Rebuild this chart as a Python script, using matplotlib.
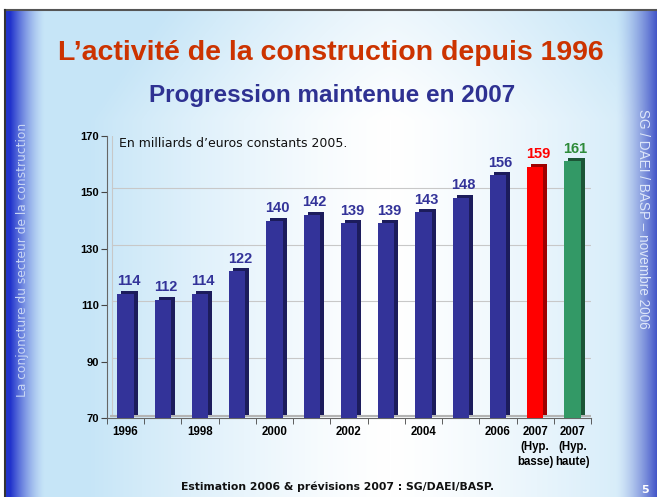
import numpy as np
import matplotlib
matplotlib.use('Agg')
import matplotlib.pyplot as plt
import matplotlib.transforms as mtransforms

# Donnees du graphique (milliards d'euros constants 2005)
annees = ['1996', '1997', '1998', '1999', '2000', '2001', '2002', '2003',
          '2004', '2005', '2006', '2007 basse', '2007 haute']
valeurs = [114, 112, 114, 122, 140, 142, 139, 139, 143, 148, 156, 159, 161]
couleurs = ['#333399'] * 11 + ['#FF0000', '#339966']
couleurs_cote = ['#1C1C5C'] * 11 + ['#9E0000', '#1C5636']
couleurs_texte = ['#333399'] * 11 + ['#FF0000', '#2E8B3A']
pos_labels = [0, 2, 4, 6, 8, 10, 11, 12]
labels_x = ['1996', '1998', '2000', '2002', '2004', '2006',
            '2007\n(Hyp.\nbasse)', '2007\n(Hyp.\nhaute)']
ticks_y = [70, 90, 110, 130, 150, 170]

W, H = 657, 497
fig = plt.figure(figsize=(W / 100, H / 100), dpi=100)

# Fond de la diapositive (degrade)
bg = fig.add_axes([0, 0, 1, 1])
bg.set_xlim(0, W)
bg.set_ylim(H, 0)
bg.axis('off')
X, Y = np.meshgrid(np.arange(W), np.arange(H))
clair = np.array([0.78, 0.90, 0.97])
blanc = np.array([1.0, 1.0, 1.0])
bleu = np.array([0.13, 0.20, 0.80])
t = np.clip(np.abs(X - 390) / 300.0, 0, 1) ** 1.3
t = np.clip(t + 0.35 * np.clip((120 - Y) / 120.0, 0, 1), 0, 1)
img = blanc * (1 - t[..., None]) + clair * t[..., None]
g = np.clip((40 - (X - 5)) / 35.0, 0, 1) ** 1.5
img = img * (1 - g[..., None]) + bleu * g[..., None]
d = np.clip((X - 615) / 42.0, 0, 1) ** 1.5
bleu2 = np.array([0.25, 0.32, 0.78])
img = img * (1 - d[..., None]) + bleu2 * d[..., None]
img[:10, :, :] = 1.0
img[:, :5, :] = 1.0
bg.imshow(img, extent=(0, W, H, 0), aspect='auto')
bg.plot([5, W], [10, 10], color='#555555', lw=1.5)
bg.plot([5, 5], [10, H], color='#333333', lw=1.5)

# Titres
fig.text(0.503, 0.893, 'L\u2019activité de la construction depuis 1996',
         ha='center', va='center', fontsize=20.5, fontweight='bold',
         color='#CC3300', family='Liberation Sans')
fig.text(0.505, 0.808, 'Progression maintenue en 2007', ha='center',
         va='center', fontsize=17.5, fontweight='bold', color='#2E3192',
         family='Liberation Sans')
fig.text(0.034, 0.477, 'La conjoncture du secteur de la construction',
         rotation=90, ha='center', va='center', fontsize=8.8,
         color='#C8D6F5', family='DejaVu Sans')
fig.text(0.979, 0.559, 'SG / DAEI / BASP \u2013 novembre 2006',
         rotation=-90, ha='center', va='center', fontsize=9.8,
         color='#DDE6FA', family='Liberation Sans')
fig.text(0.982, 0.015, '5', ha='center', va='center', fontsize=8,
         color='white', fontweight='bold')
fig.text(0.514, 0.02, 'Estimation 2006 & prévisions 2007 : SG/DAEI/BASP.',
         ha='center', va='center', fontsize=7.8, fontweight='bold',
         color='#111111', family='DejaVu Sans')

# Graphique
ax = fig.add_axes([107 / W, 79 / H, 484 / W, 282 / H])
ax.patch.set_alpha(0)
x = np.arange(len(valeurs))
ax.set_xlim(-0.5, len(valeurs) - 0.5)
ax.set_ylim(70, 170)

# Mur du fond decale (effet 3D)
decal = mtransforms.offset_copy(ax.transData, fig=fig, x=5, y=4, units='dots')
for v in ticks_y[1:]:
    ax.plot([-0.5, len(valeurs) - 0.5], [v, v], color='#C8C8C8', lw=0.8,
            transform=decal, zorder=1)
ax.plot([-0.5, -0.5], [70, 170], color='#C8C8C8', lw=0.8, transform=decal, zorder=1)
ax.plot([len(valeurs) - 0.5] * 2, [70, 170], color='#C8C8C8', lw=0.8,
        transform=decal, zorder=1)
ax.plot([-0.5, len(valeurs) - 0.5], [70, 70], color='#B4B4B4', lw=1.5,
        transform=mtransforms.offset_copy(ax.transData, fig=fig, x=3, y=2, units='dots'),
        zorder=1, solid_capstyle='butt')

larg = 0.44
cote = mtransforms.offset_copy(ax.transData, fig=fig, x=4, y=3, units='dots')
ax.bar(x, [v - 70 for v in valeurs], width=larg, bottom=70,
       color=couleurs_cote, transform=cote, zorder=2)
ax.bar(x, [v - 70 for v in valeurs], width=larg, bottom=70,
       color=couleurs, zorder=3)

for xi, v, c in zip(x, valeurs, couleurs_texte):
    ax.annotate(str(v), (xi, v), xytext=(2, 4), textcoords='offset points',
                ha='center', va='bottom', fontsize=10.5, fontweight='bold',
                color=c, family='Liberation Sans', zorder=4)

ax.text(0.025, 0.998, 'En milliards d\u2019euros constants 2005.',
        transform=ax.transAxes, ha='left', va='top', fontsize=9,
        family='DejaVu Sans', color='#111111')

ax.set_yticks(ticks_y)
ax.set_yticklabels([str(v) for v in ticks_y], fontsize=8, fontweight='bold',
                   family='Liberation Sans')
ax.set_xticks(pos_labels)
ax.set_xticklabels(labels_x, fontsize=8.3, fontweight='bold',
                   family='Liberation Sans', linespacing=1.3)
ax.set_xticks(np.arange(-0.5, len(valeurs)), minor=True)
ax.tick_params(axis='x', which='major', length=0, pad=6)
ax.tick_params(axis='x', which='minor', length=4, color='#444444')
ax.tick_params(axis='y', length=4, color='#444444', pad=2)
for s in ['top', 'right']:
    ax.spines[s].set_visible(False)
ax.spines['left'].set_color('#666666')
ax.spines['bottom'].set_color('#666666')

plt.savefig('out.png', dpi=100)
